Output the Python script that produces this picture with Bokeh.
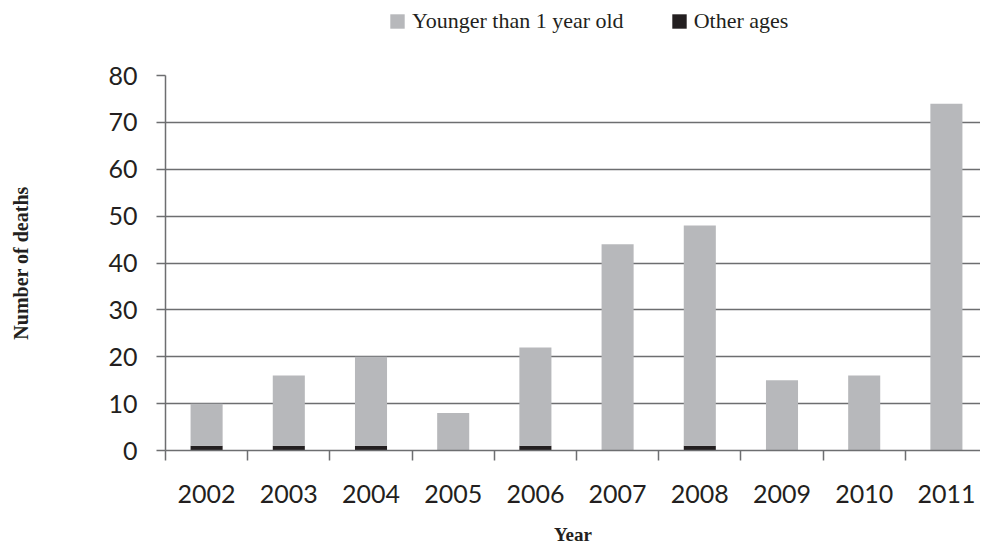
from bokeh.plotting import figure
from bokeh.layouts import column
from bokeh.models import FixedTicker, Range1d, Legend, LegendItem, ColumnDataSource
from bokeh.embed import file_html
from bokeh.resources import INLINE

years = ["2002", "2003", "2004", "2005", "2006", "2007", "2008", "2009", "2010", "2011"]
other_ages = [1, 1, 1, 0, 1, 0, 1, 0, 0, 0]
younger_1 = [9, 15, 19, 8, 21, 44, 47, 15, 16, 74]
y_ticks = [0, 10, 20, 30, 40, 50, 60, 70, 80]
series_labels = ["Younger than 1 year old", "Other ages"]

xc = [i + 0.5 for i in range(len(years))]
tops_y = [o + y for o, y in zip(other_ages, younger_1)]
src = ColumnDataSource(dict(x=xc, other=other_ages, yb=other_ages, yt=tops_y))

grey = "#b7b8bb"
dark = "#231f20"
axis_col = "#6d6e70"
text_col = "#231f20"

W = 980
LEG_H = 45
left = 165
unit_px = 82.2

# ---- legend strip on top (hidden copies of the bars supply the swatches) ----
lf = figure(width=W, height=LEG_H, output_backend="svg", toolbar_location=None,
            x_axis_type=None, y_axis_type=None, min_border=0,
            x_range=Range1d(0, 1), y_range=Range1d(0, 1))
lf.outline_line_color = None
lf.xgrid.grid_line_color = None
lf.ygrid.grid_line_color = None
lr_young = lf.vbar(x="x", width=0.39, bottom="yb", top="yt", source=src, fill_color=grey, line_color=None)
lr_other = lf.vbar(x="x", width=0.39, bottom=0, top="other", source=src, fill_color=dark, line_color=None)
lr_young.visible = False
lr_other.visible = False
legend = Legend(items=[LegendItem(label=series_labels[0], renderers=[lr_young]),
                       LegendItem(label=series_labels[1], renderers=[lr_other])],
                orientation="horizontal", location=(223, 11), margin=0, padding=4,
                label_text_font="Liberation Serif", label_text_font_size="22px",
                label_text_color=text_col, glyph_width=18, glyph_height=18,
                label_standoff=6, spacing=46, border_line_color=None, background_fill_alpha=0,
                inactive_fill_alpha=0, click_policy="none")
lf.add_layout(legend, "center")

# ---- main chart ----
p = figure(width=W, height=502, output_backend="svg", toolbar_location=None,
           x_range=Range1d(0, (W - left) / unit_px), y_range=Range1d(0, 80),
           min_border_left=left, min_border_top=30, min_border_right=0, min_border_bottom=0)
p.outline_line_color = None

p.vbar(x="x", width=0.39, bottom=0, top="other", source=src, fill_color=dark, line_color=None)
p.vbar(x="x", width=0.39, bottom="yb", top="yt", source=src, fill_color=grey, line_color=None)

# x axis
p.xaxis.ticker = FixedTicker(ticks=xc, minor_ticks=list(range(len(years) + 1)))
p.xaxis.major_label_overrides = {c: y for c, y in zip(xc, years)}
p.xaxis.major_tick_out = 0
p.xaxis.major_tick_in = 0
p.xaxis.minor_tick_out = 10
p.xaxis.minor_tick_in = 0
p.xaxis.minor_tick_line_color = axis_col
p.xaxis.minor_tick_line_width = 1.5
p.xaxis.axis_line_color = axis_col
p.xaxis.axis_line_width = 1.5
p.xaxis.major_label_standoff = 24
p.xaxis.major_label_text_font = "Lato"
p.xaxis.major_label_text_font_size = "25px"
p.xaxis.major_label_text_color = text_col
p.xaxis.axis_label = "Year"
p.xaxis.axis_label_text_font = "Liberation Serif"
p.xaxis.axis_label_text_font_style = "bold"
p.xaxis.axis_label_text_font_size = "19px"
p.xaxis.axis_label_text_color = text_col
p.xaxis.axis_label_standoff = 18

# y axis
p.yaxis.ticker = FixedTicker(ticks=y_ticks)
p.yaxis.major_tick_out = 9
p.yaxis.major_tick_in = 0
p.yaxis.minor_tick_line_color = None
p.yaxis.major_tick_line_color = axis_col
p.yaxis.major_tick_line_width = 1.5
p.yaxis.axis_line_color = axis_col
p.yaxis.axis_line_width = 1.5
p.yaxis.major_label_standoff = 19
p.yaxis.major_label_text_font = "Lato"
p.yaxis.major_label_text_font_size = "25px"
p.yaxis.major_label_text_color = text_col
p.yaxis.axis_label = "Number of deaths"
p.yaxis.axis_label_text_font = "Liberation Serif"
p.yaxis.axis_label_text_font_style = "bold"
p.yaxis.axis_label_text_font_size = "20px"
p.yaxis.axis_label_text_color = text_col
p.yaxis.axis_label_standoff = 73

p.xgrid.grid_line_color = None
p.ygrid.grid_line_color = axis_col
p.ygrid.grid_line_width = 1.5

layout = column(lf, p, spacing=0)
open("out.html", "w").write(file_html(layout, INLINE))
